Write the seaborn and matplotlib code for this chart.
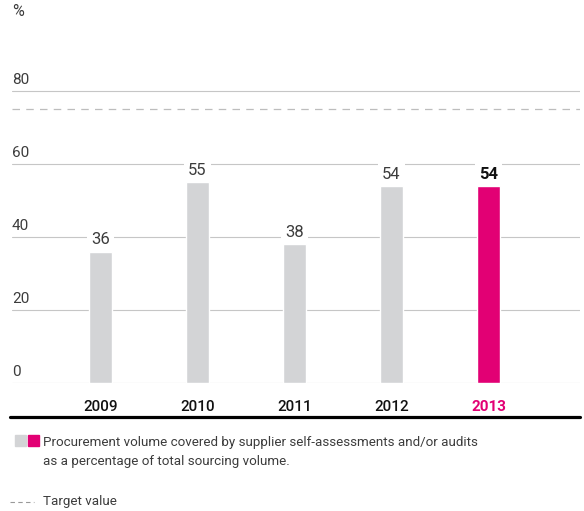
import matplotlib
matplotlib.use("Agg")
import matplotlib.pyplot as plt
import seaborn as sns
import pandas as pd
from matplotlib.lines import Line2D
from matplotlib.patches import Rectangle

years = ["2009", "2010", "2011", "2012", "2013"]
values = [36, 55, 38, 54, 54]
target = 75
yticks = [0, 20, 40, 60, 80]
bar_colors = ["#d3d4d6", "#d3d4d6", "#d3d4d6", "#d3d4d6", "#e20074"]
legend_text = ("Procurement volume covered by supplier self-assessments and/or audits\n"
               "as a percentage of total sourcing volume.")
target_text = "Target value"

sns.set_theme(style="white")
plt.rcParams["font.family"] = ["Roboto", "DejaVu Sans"]

W, H = 584, 511
fig = plt.figure(figsize=(W / 100, H / 100), dpi=100)

def fx(px):
    return px / W

def fy(py):
    return 1 - py / H

ax = fig.add_axes([fx(12), fy(383), (580 - 12) / W, 90 * 3.65 / H])

df = pd.DataFrame({"year": years, "value": values})
sns.barplot(data=df, x="year", y="value", hue="year", palette=bar_colors,
            width=0.23, legend=False, ax=ax, saturation=1, zorder=3)

ax.set_xlim(-0.912, 4.943)
ax.set_ylim(0, 90)
for s in ax.spines.values():
    s.set_visible(False)
ax.set_xlabel("")
ax.set_ylabel("")
ax.set_yticks([])
ax.grid(False)

TXT = "#3c3c3c"

for t in yticks:
    ax.axhline(t, color="#c6c6c6", lw=0.8, zorder=1)
    ax.annotate(str(t), xy=(0, t), xycoords=("axes fraction", "data"),
                xytext=(0, 3), textcoords="offset points", ha="left", va="bottom",
                fontsize=11, color=TXT, fontweight="normal")

ax.axhline(target, color="#bdbdbd", lw=0.9, ls=(0, (6, 5)), zorder=2)

for i, v in enumerate(values):
    last = i == len(values) - 1
    ax.annotate(str(v), xy=(i, v), xytext=(0, 3), textcoords="offset points",
                ha="center", va="bottom", fontsize=12,
                color="#111111" if last else TXT,
                fontweight="bold" if last else "normal",
                bbox=dict(boxstyle="square,pad=0.25", fc="white", ec="none"),
                zorder=4)

ax.set_xticks(range(len(years)))
ax.set_xticklabels(years, fontsize=11)
ax.tick_params(axis="x", length=0, pad=12)
for i, lab in enumerate(ax.get_xticklabels()):
    if i == len(years) - 1:
        lab.set_color("#e20074")
        lab.set_fontweight("bold")
    else:
        lab.set_color("#111111")
        lab.set_fontweight("medium")

fig.text(fx(12), fy(12), "%", ha="left", va="center", fontsize=11.5, color=TXT,
         fontweight="normal")

fig.add_artist(Line2D([fx(10), fx(580)], [fy(417), fy(417)], color="black", lw=2.3))

fig.add_artist(Rectangle((fx(15), fy(446)), 11 / W, 11 / H, color="#d3d4d6", transform=fig.transFigure))
fig.add_artist(Rectangle((fx(28), fy(446)), 11 / W, 11 / H, color="#e20074", transform=fig.transFigure))
fig.text(fx(43), fy(452), legend_text, ha="left", va="center", fontsize=9.6,
         color=TXT, linespacing=1.65, fontweight="normal")

fig.add_artist(Line2D([fx(10), fx(34)], [fy(502), fy(502)], color="#999999", lw=0.8,
                      ls=(0, (4, 3))))
fig.text(fx(43), fy(502), target_text, ha="left", va="center", fontsize=9.6,
         color=TXT, fontweight="normal")

fig.savefig("out.png", dpi=100)
